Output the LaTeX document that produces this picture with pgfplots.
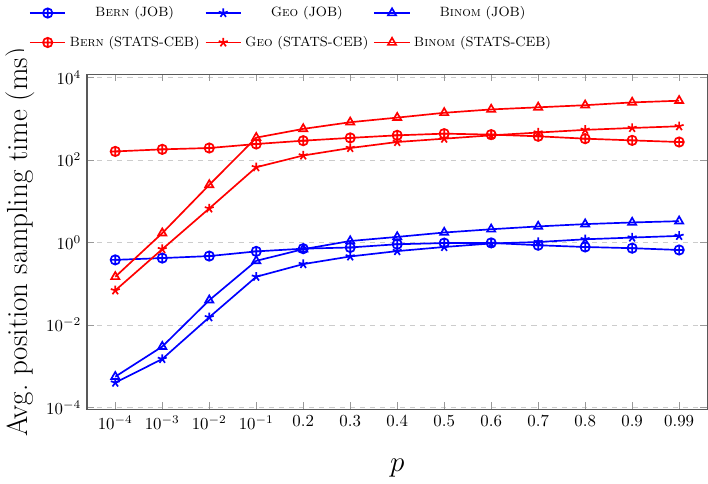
\documentclass[border=0pt]{standalone}
\usepackage{pgfplots}
\pgfplotsset{compat=1.18}

\definecolor{axisgray}{gray}{0.35}
\definecolor{tickgray}{gray}{0.6}

\begin{document}
\begin{tikzpicture}
\begin{axis}[
    scale only axis,
    width=12.95cm, height=7.0cm,
    ymode=log,
    xmin=-0.6, xmax=12.6,
    ymin=8.9e-5, ymax=1.2e4,
    xtick={0,...,12},
    xticklabels={$10^{-4}$,$10^{-3}$,$10^{-2}$,$10^{-1}$,0.2,0.3,0.4,0.5,0.6,0.7,0.8,0.9,0.99},
    ytick={1e-4,1e-2,1,1e2,1e4},
    minor ytick={},
    ymajorgrids,
    major grid style={dashed, gray!40, line width=0.6pt},
    axis line style={axisgray, line width=0.8pt},
    tick style={tickgray, line width=0.6pt},
    xlabel={$p$},
    ylabel={Avg.\ position sampling time (ms)},
    label style={font=\LARGE},
    xlabel style={yshift=-11pt},
    every axis plot/.append style={line width=1pt, mark size=2.8pt, mark options={solid}},
    legend columns=3,
    legend cell align=center,
    legend style={at={(0.33,1.055)}, anchor=south, draw=none, font=\footnotesize,
        row sep=6pt,
        /tikz/every even column/.append style={column sep=1pt}},
    legend image code/.code={\draw[mark repeat=2,mark phase=2,#1] plot coordinates {(0cm,0cm)(0.37cm,0cm)(0.74cm,0cm)};},
]
% JOB
\addplot[blue, mark=oplus] coordinates {
(0,0.38) (1,0.42) (2,0.47) (3,0.61) (4,0.71) (5,0.76) (6,0.91) (7,0.97) (8,0.98) (9,0.86) (10,0.78) (11,0.73) (12,0.66)};
\addplot[blue, mark=star] coordinates {
(0,4.0e-4) (1,1.5e-3) (2,0.0154) (3,0.148) (4,0.30) (5,0.46) (6,0.62) (7,0.78) (8,0.95) (9,1.03) (10,1.2) (11,1.32) (12,1.45)};
\addplot[blue, mark=triangle] coordinates {
(0,5.6e-4) (1,3.0e-3) (2,0.040) (3,0.36) (4,0.69) (5,1.09) (6,1.37) (7,1.75) (8,2.1) (9,2.46) (10,2.8) (11,3.07) (12,3.3)};
% STATS-CEB
\addplot[red, mark=oplus] coordinates {
(0,162) (1,182) (2,196) (3,245) (4,295) (5,345) (6,398) (7,437) (8,414) (9,377) (10,330) (11,300) (12,274)};
\addplot[red, mark=star] coordinates {
(0,0.069) (1,0.69) (2,6.7) (3,67) (4,129) (5,196) (6,274) (7,330) (8,398) (9,465) (10,540) (11,600) (12,660)};
\addplot[red, mark=triangle] coordinates {
(0,0.148) (1,1.69) (2,25) (3,350) (4,570) (5,827) (6,1070) (7,1400) (8,1690) (9,1900) (10,2140) (11,2500) (12,2750)};
\legend{\textsc{Bern} (JOB), \textsc{Geo} (JOB), \textsc{Binom} (JOB),
        \textsc{Bern} (STATS-CEB), \textsc{Geo} (STATS-CEB), \textsc{Binom} (STATS-CEB)}
\end{axis}
\end{tikzpicture}
\end{document}
